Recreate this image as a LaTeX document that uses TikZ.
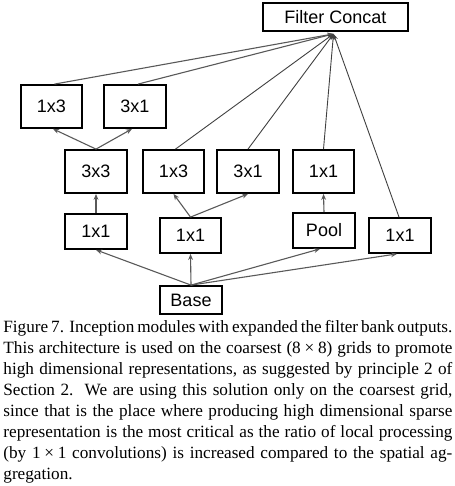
\documentclass[tikz,border=0pt]{standalone}
\usepackage{fontspec}
\setmainfont{Liberation Serif}
\newfontfamily\arialf{Liberation Sans}
\usetikzlibrary{arrows.meta}
\newcommand{\mytimes}{\hspace{0.22em}×\hspace{0.22em}}
\newcommand{\capline}[1]{\makebox[224.5pt][s]{#1}}
\begin{document}
\begin{tikzpicture}[x=0.5pt,y=-0.5pt,
  box/.style={draw, line width=0.9pt, inner sep=0pt, fill=white,
    font=\arialf\fontsize{9}{10}\selectfont},
  tall/.style={box, minimum width=30.75pt, minimum height=21.5pt},
  short/.style={box, minimum width=30.75pt, minimum height=17.5pt},
  conn/.style={draw=black!65, line width=0.55pt, -{Stealth[length=3pt,width=2.4pt]}},
  top/.style={draw=black!75, line width=0.45pt, -{Stealth[length=3pt,width=2.4pt]}}]
\useasboundingbox (0,0) rectangle (454,486);
% nodes
\node[box, minimum width=72.5pt, minimum height=14pt] (fc) at (335.5,17) {Filter Concat};
\node[tall] (t1) at (51.5,106.5) {1x3};
\node[tall] (t2) at (135,106.5) {3x1};
\node[tall] (m1) at (96,171.5) {3x3};
\node[tall] (m2) at (173.5,171.5) {1x3};
\node[tall] (m3) at (248,171.5) {3x1};
\node[tall] (m4) at (323.5,171.5) {1x1};
\node[short] (l1) at (96,231.5) {1x1};
\node[short] (l2) at (190.5,235.5) {1x1};
\node[short] (l3) at (324,230.5) {Pool};
\node[short] (l4) at (400,235.5) {1x1};
\node[box, minimum width=31pt, minimum height=14pt] (base) at (191,300) {Base};
% connectors from base
\draw[conn] (base.north) -- (l1.south);
\draw[conn] (base.north) -- (l2.south);
\draw[conn] (base.north) -- ([xshift=-2pt]l3.south);
\draw[conn] (base.north) -- ([xshift=-1.5pt]l4.south);
% second level
\draw[conn] (l1.north) -- (m1.south);
\draw[conn] (l2.north) -- (m2.south);
\draw[conn] (l2.north) -- (m3.south);
\draw[conn] (l3.north) -- (m4.south);
\draw[conn] (m1.north) -- ([xshift=0.75pt]t1.south);
\draw[conn] (m1.north) -- ([xshift=-1.5pt]t2.south);
% to filter concat
\coordinate (apex) at ([xshift=-1pt,yshift=-1pt]fc.south);
\draw[conn] ([xshift=1.5pt]t1.north) -- (apex);
\draw[conn] ([xshift=1.5pt]t2.north) -- (apex);
\draw[top] ([xshift=1pt]m2.north) -- (apex);
\draw[top] (m3.north) -- (apex);
\draw[top] (m4.north) -- (apex);
\draw[top] ([xshift=-0.5pt]l4.north) -- (apex);
% caption
\node[anchor=north west, inner sep=0pt, align=left,
  font=\fontsize{8.6}{10.5}\selectfont] (cap) at (3,320) {%
\capline{Figure 7. Inception modules with expanded the filter bank outputs.}\\
\capline{This architecture is used on the coarsest (8\mytimes8) grids to promote}\\
\capline{high dimensional representations, as suggested by principle 2 of}\\
\capline{Section 2.\ \ We are using this solution only on the coarsest grid,}\\
\capline{since that is the place where producing high dimensional sparse}\\
\capline{representation is the most critical as the ratio of local processing}\\
\capline{(by 1\mytimes1 convolutions) is increased compared to the spatial ag-}\\
gregation.};
\end{tikzpicture}
\end{document}
